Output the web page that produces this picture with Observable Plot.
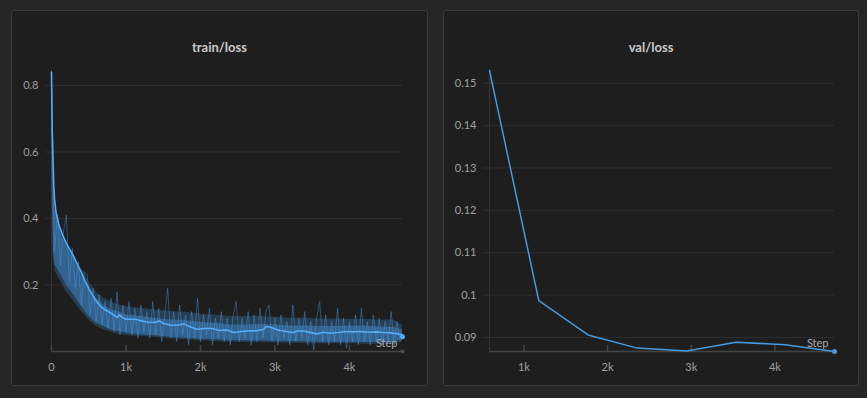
<!DOCTYPE html>
<html>
<head>
<meta charset="utf-8">
<script src="https://cdn.jsdelivr.net/npm/d3@7"></script>
<script src="https://cdn.jsdelivr.net/npm/@observablehq/plot@0.6"></script>
<style>
  html, body { margin: 0; padding: 0; background: #262626; width: 867px; height: 398px; overflow: hidden; }
  .panel { position: absolute; top: 10px; height: 376px; background: #1e1e1e; box-shadow: inset 0 0 0 1px #3b3b3b; border-radius: 3px; }
  .panel svg { position: absolute; left: 0; top: 0; }
  .title { position: absolute; left: 0; right: 0; top: 29px; text-align: center; font: bold 13px Lato, "Open Sans", sans-serif; color: #c9c9c9; }
</style>
</head>
<body>
<div class="panel" id="p1" style="left:11px;width:417px;"><div class="title">train/loss</div></div>
<div class="panel" id="p2" style="left:443px;width:416px;"><div class="title">val/loss</div></div>
<script>
// ---- train/loss: smoothed curve ----
const smoothSteps = [0,5,10,20,30,40,60,80,100,150,200,250,300,350,400,450,500,550,600,650,700,750,800,850,880,910,940,1000,1100,1150,1200,1300,1400,1450,1500,1600,1700,1780,1850,1950,2050,2150,2250,2350,2450,2550,2650,2750,2850,2880,2950,3050,3150,3250,3300,3400,3500,3560,3650,3750,3850,3950,4050,4150,4250,4350,4450,4550,4650,4712];
const smoothLoss = [0.84,0.75,0.66,0.58,0.50,0.46,0.42,0.40,0.38,0.35,0.325,0.305,0.285,0.26,0.238,0.212,0.19,0.17,0.152,0.138,0.128,0.122,0.115,0.107,0.102,0.11,0.104,0.097,0.097,0.096,0.092,0.088,0.088,0.092,0.085,0.079,0.079,0.083,0.075,0.067,0.069,0.069,0.063,0.065,0.057,0.060,0.062,0.062,0.067,0.075,0.072,0.064,0.060,0.057,0.062,0.061,0.056,0.053,0.058,0.055,0.057,0.060,0.059,0.060,0.058,0.059,0.057,0.056,0.053,0.050];

// ---- train/loss: raw spread (outer and dense inner band) ----
const bandSteps = [0,10,25,50,100,150,200,300,400,500,600,700,800,900,1000,1200,1400,1600,1800,2000,2200,2400,2600,2800,3000,3200,3400,3600,3800,4000,4200,4400,4600,4712];
const bandLow  = [0.84,0.45,0.28,0.24,0.22,0.20,0.18,0.15,0.12,0.095,0.075,0.065,0.058,0.052,0.048,0.045,0.042,0.038,0.035,0.032,0.030,0.028,0.027,0.027,0.026,0.025,0.024,0.023,0.023,0.023,0.022,0.022,0.022,0.030];
const bandHigh = [0.84,0.70,0.50,0.43,0.39,0.35,0.33,0.29,0.25,0.21,0.18,0.16,0.15,0.14,0.135,0.13,0.125,0.12,0.118,0.112,0.11,0.105,0.105,0.105,0.103,0.10,0.10,0.098,0.098,0.097,0.097,0.095,0.095,0.08];
const coreLow  = [0.84,0.50,0.30,0.26,0.24,0.22,0.20,0.17,0.135,0.105,0.085,0.075,0.065,0.060,0.055,0.050,0.047,0.043,0.040,0.037,0.035,0.033,0.032,0.032,0.031,0.030,0.029,0.028,0.028,0.028,0.027,0.027,0.027,0.035];
const coreHigh = [0.84,0.66,0.47,0.42,0.38,0.34,0.32,0.28,0.23,0.19,0.16,0.14,0.125,0.12,0.11,0.105,0.10,0.095,0.093,0.088,0.085,0.080,0.080,0.082,0.080,0.077,0.077,0.075,0.075,0.076,0.076,0.074,0.072,0.065];

// ---- train/loss: raw samples (every 40 steps) ----
const rawSteps = [0,40,80,120,160,200,240,280,320,360,400,440,480,520,560,600,640,680,720,760,800,840,880,920,960,1000,1040,1080,1120,1160,1200,1240,1280,1320,1360,1400,1440,1480,1520,1560,1600,1640,1680,1720,1760,1800,1840,1880,1920,1960,2000,2040,2080,2120,2160,2200,2240,2280,2320,2360,2400,2440,2480,2520,2560,2600,2640,2680,2720,2760,2800,2840,2880,2920,2960,3000,3040,3080,3120,3160,3200,3240,3280,3320,3360,3400,3440,3480,3520,3560,3600,3640,3680,3720,3760,3800,3840,3880,3920,3960,4000,4040,4080,4120,4160,4200,4240,4280,4320,4360,4400,4440,4480,4520,4560,4600,4640,4680,4712];
const rawLoss = [0.84,0.30,0.41,0.26,0.36,0.41,0.21,0.31,0.19,0.27,0.14,0.24,0.23,0.11,0.19,0.09,0.17,0.08,0.15,0.07,0.16,0.06,0.18,0.05,0.14,0.06,0.15,0.05,0.13,0.04,0.14,0.06,0.12,0.04,0.15,0.05,0.13,0.03,0.11,0.19,0.04,0.12,0.03,0.14,0.05,0.11,0.02,0.12,0.04,0.16,0.03,0.11,0.05,0.13,0.02,0.10,0.04,0.12,0.03,0.10,0.02,0.11,0.15,0.03,0.10,0.04,0.12,0.02,0.11,0.03,0.13,0.04,0.12,0.14,0.03,0.10,0.02,0.11,0.04,0.09,0.02,0.14,0.03,0.10,0.04,0.12,0.02,0.09,0.005,0.10,0.15,0.03,0.11,0.02,0.09,0.03,0.13,0.02,0.10,0.01,0.09,0.03,0.11,0.02,0.13,0.03,0.09,0.02,0.11,0.03,0.10,0.02,0.09,0.03,0.12,0.02,0.09,0.03,0.044];

const trainXTicks = [0, 1000, 2000, 3000, 4000];
const trainYTicks = [0.2, 0.4, 0.6, 0.8];
const trainXDomain = [0, 4712];
const trainYDomain = [0, 0.845];

// ---- val/loss ----
const valSteps = [589, 1178, 1767, 2356, 2945, 3534, 4123, 4712];
const valLoss  = [0.1530, 0.0987, 0.0906, 0.0875, 0.0868, 0.0889, 0.0883, 0.0867];
const valXTicks = [1000, 2000, 3000, 4000];
const valYTicks = [0.09, 0.10, 0.11, 0.12, 0.13, 0.14, 0.15];
const valXDomain = [589, 4712];
const valYDomain = [0.0867, 0.1530];

const xLabel = "Step";
const kFmt = d => d === 0 ? "0" : (d / 1000) + "k";
const numFmt = d => String(+d.toFixed(2));

const smooth = smoothSteps.map((s, i) => ({step: s, loss: smoothLoss[i]}));
const band = bandSteps.map((s, i) => ({step: s, lo: bandLow[i], hi: bandHigh[i], clo: coreLow[i], chi: coreHigh[i]}));
const raw = rawSteps.map((s, i) => ({step: s, loss: rawLoss[i]}));
const val = valSteps.map((s, i) => ({step: s, loss: valLoss[i]}));

const style = {background: "transparent", color: "#9c9c9c", fontFamily: "Lato, 'Open Sans', sans-serif", fontSize: "11px"};

function frameMarks(xTicks, yTicks, xDomain, yDomain, plotH) {
  const d = (yDomain[1] - yDomain[0]) * 6 / plotH;
  return [
    Plot.gridY(yTicks, {stroke: "#2f2f2f", strokeOpacity: 1}),
    Plot.axisY(yTicks, {tickSize: 6, tickPadding: 7, tickFormat: numFmt, stroke: "#2f2f2f", fill: "#a0a0a0", label: null}),
    Plot.axisX(xTicks, {tickSize: 0, tickPadding: 12, tickFormat: kFmt, fill: "#a0a0a0", label: null}),
    Plot.ruleX([xDomain[0]], {stroke: "#333333", strokeWidth: 1}),
    Plot.ruleY([yDomain[0]], {stroke: "#444444", strokeWidth: 1.5}),
    Plot.ruleX(xTicks, {x: t => t, y1: yDomain[0], y2: yDomain[0] + d, stroke: "#444444", strokeWidth: 1.5})
  ];
}

// Left panel
const H = 376, mt = 60, mb = 35;
const left = Plot.plot({
  width: 417, height: H, marginTop: mt, marginBottom: mb, marginLeft: 40, marginRight: 26,
  x: {domain: trainXDomain}, y: {domain: trainYDomain},
  style,
  marks: [
    ...frameMarks(trainXTicks, trainYTicks, trainXDomain, trainYDomain, H - mt - mb),
    Plot.areaY(band, {x: "step", y1: "lo", y2: "hi", fill: "#3f88cc", fillOpacity: 0.3}),
    Plot.areaY(band, {x: "step", y1: "clo", y2: "chi", fill: "#3f88cc", fillOpacity: 0.5}),
    Plot.line(raw, {x: "step", y: "loss", stroke: "#4a94d8", strokeOpacity: 0.45, strokeWidth: 1}),
    Plot.line(smooth, {x: "step", y: "loss", stroke: "#55abf4", strokeWidth: 1.6}),
    Plot.dot([raw[raw.length - 1]], {x: "step", y: "loss", r: 2.5, fill: "#55abf4"}),
    Plot.dot([trainXDomain[1]], {x: d => d, y: trainYDomain[0], r: 2, fill: "#4a4f58"}),
    Plot.text([xLabel], {frameAnchor: "bottom-right", text: d => d, textAnchor: "end", lineAnchor: "bottom", dx: -5, dy: -5, fill: "#a8a8a8", fontSize: 11})
  ]
});
document.getElementById("p1").appendChild(left);

// Right panel
const right = Plot.plot({
  width: 416, height: H, marginTop: mt, marginBottom: mb, marginLeft: 46, marginRight: 25,
  x: {domain: valXDomain}, y: {domain: valYDomain},
  style,
  marks: [
    ...frameMarks(valXTicks, valYTicks, valXDomain, valYDomain, H - mt - mb),
    Plot.line(val, {x: "step", y: "loss", stroke: "#4499e0", strokeWidth: 1.5}),
    Plot.dot([val[val.length - 1]], {x: "step", y: "loss", r: 2.5, fill: "#4499e0"}),
    Plot.text([xLabel], {frameAnchor: "bottom-right", text: d => d, textAnchor: "end", lineAnchor: "bottom", dx: -6, dy: -5, fill: "#a8a8a8", fontSize: 11})
  ]
});
document.getElementById("p2").appendChild(right);
</script>
</body>
</html>
